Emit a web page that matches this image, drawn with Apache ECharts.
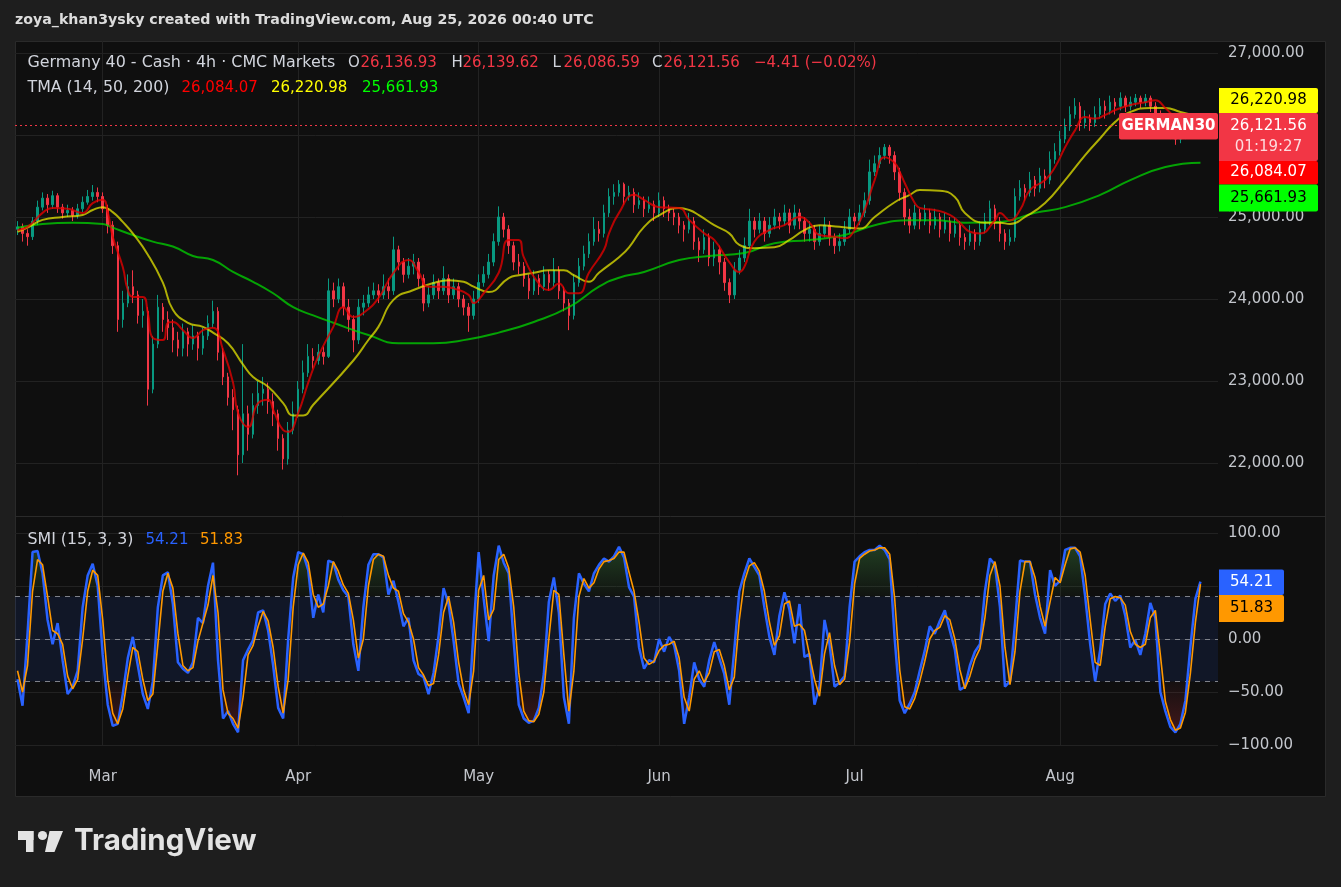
<!DOCTYPE html>
<html>
<head>
<meta charset="utf-8">
<title>Germany 40 - Cash · 4h · CMC Markets</title>
<script src="https://cdn.jsdelivr.net/npm/echarts@6/dist/echarts.min.js"></script>
<style>
html,body{margin:0;padding:0;background:#1e1e1e;overflow:hidden;}
#chart{width:1341px;height:887px;}
</style>
</head>
<body>
<div id="chart"></div>
<script>
// ---------- tick labels ----------
const monthLabels = [[17,'Mar'],[56,'Apr'],[92,'May'],[128,'Jun'],[167,'Jul'],[208,'Aug']];
const priceTicks = [22000,23000,24000,25000,26000,27000];
const smiTicks = [-100,-50,0,50,100];
const smiLevels = [40,0,-40];

// ---------- candles (4h bars) ----------
const firstOpen = 24850;
const lastBar = {open:26136.93, high:26139.62, low:26086.59, close:26121.56, change:-4.41, changePct:-0.02, countdown:'01:19:27'};
const closes = [
24880,24800,24760,24950,25120,25230,25150,25260,25120,25050,
25080,25020,25100,25180,25250,25300,25250,25100,24900,24650,
23750,23950,24150,24050,23800,23850,22900,23450,23900,23750,
23650,23500,23400,23600,23450,23550,23400,23550,23700,23850,
23350,23050,22800,22650,22100,22600,22350,22700,22850,22900,
22750,22600,22300,22050,22400,22600,22900,23100,23300,23250,
23350,23300,24100,24000,24150,23900,23750,23500,23900,23950,
24050,24100,24050,24150,24100,24600,24450,24300,24400,24450,
24250,23950,24050,24200,24100,24250,24050,24150,24000,23900,
23800,24000,24200,24300,24450,24700,25000,24850,24650,24450,
24400,24250,24100,24250,24150,24300,24200,24350,24100,23950,
23800,24200,24400,24550,24700,24850,24800,25050,25250,25300,
25400,25250,25300,25150,25200,25100,25150,25050,25200,25100,
25050,25000,24900,24850,24950,24700,24600,24750,24500,24600,
24450,24200,24050,24350,24500,24650,24950,24850,24950,24800,
24900,25000,24950,25050,24900,25050,24950,24800,24850,24700,
24800,24900,24750,24650,24700,24850,25000,24950,25050,25200,
25550,25650,25750,25850,25750,25550,25300,25000,24900,25050,
24950,25050,24900,25000,24850,24950,24800,24900,24750,24700,
24800,24700,24850,24950,25100,24950,24800,24700,24750,25250,
25350,25300,25450,25350,25500,25450,25700,25800,25950,26100,
26250,26350,26150,26200,26150,26250,26350,26300,26400,26350,
26450,26350,26400,26450,26400,26450,26350,26250,26200,26150,
26050,25950,26000,26050,26100,26125.97,26121.56];
const highs = [
24950,24920,24850,25000,25200,25300,25280,25320,25290,25160,
25150,25120,25160,25250,25330,25390,25360,25300,25150,24950,
24700,24100,24300,24350,24100,24000,23900,23550,24050,23950,
23850,23750,23600,23700,23650,23680,23600,23650,23800,23980,
23900,23400,23100,22900,22700,23450,22700,22850,23000,23050,
22980,22850,22650,22350,22500,22750,23000,23250,23450,23400,
23450,23420,24250,24200,24250,24200,24000,23800,24000,24050,
24150,24200,24180,24300,24250,24760,24650,24500,24500,24550,
24500,24300,24150,24300,24250,24400,24300,24250,24200,24050,
23950,24100,24300,24400,24550,24800,25130,25050,24900,24700,
24550,24450,24300,24350,24300,24400,24350,24500,24400,24150,
24000,24300,24500,24650,24800,25000,24950,25150,25350,25400,
25450,25420,25380,25350,25300,25250,25250,25200,25300,25250,
25150,25100,25050,24950,25050,25000,24750,24850,24800,24700,
24650,24500,24250,24450,24600,24750,25100,25000,25050,25000,
25000,25100,25050,25150,25100,25150,25100,25000,24950,24900,
24900,25000,24950,24800,24800,24950,25100,25050,25150,25300,
25700,25750,25850,25890,25880,25800,25600,25350,25100,25150,
25100,25150,25100,25100,25050,25050,25000,25000,24950,24800,
24900,24850,24950,25050,25200,25150,25000,24850,24850,25350,
25450,25400,25550,25500,25600,25580,25800,25900,26050,26200,
26350,26450,26400,26300,26250,26350,26450,26420,26480,26450,
26520,26480,26470,26500,26480,26500,26480,26400,26300,26250,
26200,26100,26080,26120,26150,26160,26139.62];
const lows = [
24780,24700,24650,24720,24900,25080,25050,25100,25050,24980,
25000,24950,24980,25060,25150,25200,25180,25050,24800,24550,
23600,23650,23900,23950,23700,23650,22700,22850,23400,23600,
23500,23350,23300,23300,23300,23380,23250,23320,23500,23650,
23250,22950,22700,22400,21850,22000,22150,22300,22600,22700,
22600,22450,22150,21920,21980,22350,22550,22850,23050,23150,
23200,23200,23280,23900,23950,23800,23600,23350,23450,23800,
23900,24000,23950,24000,24000,24050,24350,24200,24250,24300,
24150,23850,23900,24000,24000,24050,23950,24000,23900,23800,
23600,23750,23950,24150,24250,24400,24650,24750,24550,24350,
24300,24150,24000,24050,24050,24100,24100,24150,24000,23850,
23620,23750,24150,24350,24500,24650,24700,24750,25000,25150,
25250,25150,25200,25050,25100,25000,25050,24950,25000,25000,
24950,24900,24800,24700,24800,24600,24450,24550,24400,24400,
24300,24100,23950,24000,24300,24450,24600,24750,24800,24700,
24750,24850,24850,24900,24800,24850,24850,24700,24700,24600,
24650,24750,24650,24550,24580,24650,24800,24850,24900,25000,
25150,25500,25600,25700,25650,25450,25200,24900,24800,24850,
24850,24900,24800,24850,24750,24800,24700,24750,24650,24600,
24650,24600,24650,24800,24900,24850,24700,24600,24650,24700,
25200,25200,25250,25250,25300,25350,25400,25650,25750,25900,
26050,26200,26050,26080,26050,26100,26200,26200,26250,26250,
26300,26280,26300,26350,26330,26350,26280,26180,26100,26050,
25950,25880,25900,25950,26000,26050,26086.59];

// ---------- TMA (14, 50, 200) lines, [bar index, value] ----------
const tma14 = [[0,24840],[2,24880],[5,25050],[7,25110],[10,25100],[13,25050],[15,25170],[17,25210],[18,25060],[19,24760],[21,24390],[22,24110],[23,24025],[25,24025],[26,23830],[27,23525],[29,23500],[30,23710],[31,23720],[33,23620],[35,23525],[37,23620],[39,23650],[41,23380],[43,22980],[44,22610],[46,22440],[48,22730],[50,22770],[51,22650],[53,22400],[54,22380],[56,22610],[58,22980],[60,23300],[63,23660],[65,23900],[67,23780],[69,23830],[72,24010],[75,24320],[78,24475],[80,24330],[82,24150],[85,24150],[87,24130],[90,24050],[91,23950],[93,24070],[96,24320],[98,24720],[100,24720],[101,24510],[104,24190],[106,24110],[108,24190],[110,24070],[112,24070],[114,24320],[117,24600],[118,24800],[120,25050],[123,25270],[125,25210],[128,25120],[132,25110],[134,24965],[137,24800],[139,24720],[142,24450],[144,24330],[145,24390],[147,24700],[150,24840],[153,24900],[156,25000],[158,24930],[160,24780],[163,24760],[165,24740],[167,24840],[169,25085],[171,25450],[173,25730],[175,25660],[176,25550],[177,25415],[179,25170],[180,25110],[183,25085],[186,25025],[188,24930],[190,24820],[192,24800],[195,24960],[196,25050],[198,24960],[200,25085],[202,25330],[205,25450],[207,25610],[209,25850],[211,26060],[213,26220],[215,26200],[217,26245],[219,26305],[222,26365],[225,26400],[227,26425],[229,26330],[231,26220],[236,26084.07]];
const tma50 = [[0,24820],[2,24870],[5,24965],[9,25000],[13,25025],[15,25085],[17,25120],[19,25060],[21,24940],[23,24800],[26,24540],[29,24200],[31,23870],[34,23710],[37,23660],[39,23590],[42,23460],[45,23200],[47,23050],[50,22930],[53,22730],[55,22580],[57,22580],[59,22710],[67,23250],[70,23500],[72,23660],[75,23990],[79,24110],[83,24195],[86,24230],[89,24210],[91,24150],[94,24085],[98,24255],[100,24290],[103,24320],[106,24350],[109,24350],[111,24290],[114,24210],[116,24320],[120,24510],[122,24630],[125,24880],[128,25020],[132,25110],[134,25085],[136,25020],[139,24900],[142,24800],[144,24660],[147,24620],[151,24630],[154,24720],[157,24840],[160,24900],[164,24880],[168,24860],[171,25000],[175,25180],[178,25270],[180,25330],[184,25320],[187,25245],[189,25050],[193,24930],[196,24930],[198,24915],[201,25000],[205,25170],[209,25450],[213,25755],[216,25960],[219,26160],[222,26280],[226,26330],[229,26330],[232,26280],[236,26220.98]];
const tma200 = [[0,24870],[5,24915],[11,24930],[17,24915],[19,24870],[23,24780],[27,24700],[31,24640],[35,24525],[39,24475],[43,24330],[47,24210],[51,24070],[55,23900],[59,23800],[63,23710],[70,23560],[76,23460],[83,23460],[90,23510],[96,23590],[103,23720],[110,23900],[116,24150],[120,24260],[125,24330],[132,24475],[138,24525],[145,24560],[151,24680],[158,24720],[165,24780],[171,24900],[178,24960],[183,24960],[189,24930],[196,24940],[203,25050],[209,25120],[216,25270],[222,25450],[229,25610],[236,25661.93]];

// ---------- SMI (15, 3, 3) ----------
const smi = [
-38,-63,5,82,83,62,18,-5,15,-20,
-52,-45,-30,30,60,71,50,-15,-62,-82,
-80,-52,-18,2,-25,-52,-66,-40,30,60,
63,33,-22,-28,-32,-22,20,15,50,72,
-20,-75,-68,-80,-88,-20,-10,-1,25,27,
8,-25,-65,-75,0,58,82,80,65,20,
42,25,74,72,56,46,40,-5,-30,30,
70,80,80,77,42,55,35,12,20,-20,
-33,-36,-52,-32,3,48,33,-2,-42,-55,
-70,10,82,38,-2,60,88,72,62,-3,
-62,-75,-79,-77,-65,-33,35,58,25,-55,
-80,20,62,52,45,62,70,76,73,78,
87,77,49,40,-8,-28,-20,-22,0,-12,
2,-6,-30,-80,-55,-22,-38,-45,-20,-3,
-18,-33,-62,-10,45,62,76,68,60,30,
2,-15,22,44,28,-4,33,-17,-14,-62,
-45,18,-5,-45,-41,-35,30,73,78,82,
84,84,88,84,75,0,-58,-70,-61,-50,
-30,-11,12,5,17,27,8,-10,-48,-45,
-25,-12,-5,45,76,70,30,-45,-40,15,
74,73,73,42,20,5,65,50,55,84,
86,86,78,40,-5,-40,-10,33,43,36,
41,22,-8,-1,-15,5,34,20,-50,-68,
-83,-88,-80,-58,-7,38,54.21];
const smiSignal = [
-30,-50,-25,45,75,70,40,8,5,-5,
-35,-47,-38,0,45,65,60,18,-38,-70,
-80,-66,-35,-8,-12,-38,-58,-52,-5,45,
62,48,5,-25,-30,-27,-2,15,32,60,
25,-48,-70,-75,-84,-55,-15,-6,12,26,
17,-8,-45,-70,-38,30,70,81,72,42,
30,33,50,73,64,51,43,18,-18,0,
50,75,80,78,60,48,45,24,16,0,
-27,-34,-44,-42,-15,25,40,16,-22,-48,
-62,-30,46,60,18,28,75,80,67,30,
-32,-68,-77,-78,-71,-50,0,46,42,-15,
-68,-30,40,57,48,53,66,73,74,76,
82,82,63,45,16,-18,-24,-21,-11,-6,
-5,-2,-18,-55,-68,-38,-30,-41,-32,-12,
-10,-25,-48,-36,18,54,69,72,64,45,
16,-6,3,33,36,12,14,8,-15,-38,
-54,-14,6,-25,-43,-38,-3,52,76,80,
83,84,86,86,80,38,-29,-64,-66,-56,
-40,-21,0,8,11,22,18,0,-29,-47,
-35,-19,-9,20,60,73,50,-8,-43,-12,
45,73,73,58,31,12,35,58,53,70,
85,86,82,60,18,-22,-25,12,38,40,
39,32,7,-5,-8,-5,20,27,-15,-59,
-76,-86,-84,-69,-32,16,51.83];

// ---------- build ----------
const N_CATEGORIES = 240;
const categories = Array.from({length: N_CATEGORIES}, (_, i) => {
  const m = monthLabels.find(d => d[0] === i);
  return m ? m[1] : '';
});
const candles = closes.map((c, i) => {
  const o = i === 0 ? firstOpen : (i === closes.length - 1 ? lastBar.open : closes[i - 1]);
  return [o, c, Math.min(lows[i], o, c), Math.max(highs[i], o, c)];
});
const smiAbove = smi.map(v => Math.max(v, 40));
const smiBelow = smi.map(v => Math.min(v, -40));

const FONT = '"DejaVu Sans", "Liberation Sans", sans-serif';
const fmt = v => v.toLocaleString('en-US', {minimumFractionDigits: 2, maximumFractionDigits: 2}).replace('-', '\u2212');
const last = a => a[a.length - 1];
const v14 = last(tma14)[1], v50 = last(tma50)[1], v200 = last(tma200)[1];
const smiLast = last(smi), sigLast = last(smiSignal);

const GRID_L = 15, GRID_W = 1203;
const TEXT = '#d1d4dc', AXIS_TEXT = '#c3c6cc', GRID_C = '#222222';
const UP = '#089981', DOWN = '#f23645';

function txt(x, y, text, fill, opts) {
  const o = opts || {};
  return {type: 'text', x: x, y: y, silent: true, z: 100,
    style: {text: text, fill: fill, font: (o.weight || 'normal') + ' ' + (o.size || 15) + 'px ' + (o.family || FONT),
      textAlign: o.align || 'left', textVerticalAlign: 'middle', align: o.align || 'left', verticalAlign: 'middle'}};
}
function box(x, y, w, h, fill, r) {
  return {type: 'rect', silent: true, z: 99, shape: {x: x, y: y, width: w, height: h, r: r || 0}, style: {fill: fill}};
}

const graphics = [
  {type: 'rect', silent: true, z: -10, shape: {x: 15.5, y: 41.5, width: 1310, height: 755}, style: {fill: '#0f0f0f', stroke: '#2a2a2a', lineWidth: 1}},
  {type: 'line', silent: true, z: 50, shape: {x1: 15, y1: 516.5, x2: 1326, y2: 516.5}, style: {stroke: '#2a2a2a', lineWidth: 1}},
  txt(15, 20, 'zoya_khan3ysky created with TradingView.com, Aug 25, 2026 00:40 UTC', '#dcdcdc', {size: 14.2, weight: 'bold'}),
  // legend line 1
  txt(27.5, 63, 'Germany 40 - Cash \u00b7 4h \u00b7 CMC Markets', TEXT, {size: 15.9}),
  txt(348, 63, 'O', TEXT), txt(360.5, 63, fmt(lastBar.open), DOWN),
  txt(451.5, 63, 'H', TEXT), txt(462.5, 63, fmt(lastBar.high), DOWN),
  txt(552.5, 63, 'L', TEXT), txt(563.5, 63, fmt(lastBar.low), DOWN),
  txt(652, 63, 'C', TEXT), txt(663.5, 63, fmt(lastBar.close), DOWN),
  txt(754, 63, fmt(lastBar.change) + ' (' + fmt(lastBar.changePct) + '%)', DOWN),
  // legend line 2
  txt(27.5, 88, 'TMA (14, 50, 200)', TEXT, {size: 15.8}),
  txt(181.5, 88, fmt(v14), '#ff0000'),
  txt(271, 88, fmt(v50), '#ffff00'),
  txt(362, 88, fmt(v200), '#00ff00'),
  // SMI legend
  txt(27.5, 540, 'SMI (15, 3, 3)', TEXT, {size: 15.8}),
  txt(145.5, 540, smiLast.toFixed(2), '#2962ff'),
  txt(200, 540, sigLast.toFixed(2), '#ff9800'),
  // right price labels
  box(1219, 88, 99, 25, '#ffff00', [0, 2, 2, 0]), txt(1268.5, 100.5, fmt(v50), '#000000', {align: 'center'}),
  box(1219, 113, 99, 48, '#f23645', [0, 2, 2, 0]), txt(1268.5, 126, fmt(lastBar.close), '#ffffff', {align: 'center'}),
  txt(1268.5, 147, lastBar.countdown, 'rgba(255,255,255,0.82)', {align: 'center'}),
  box(1219, 161, 99, 23.5, '#ff0000', [0, 2, 2, 0]), txt(1268.5, 172.5, fmt(v14), '#ffffff', {align: 'center'}),
  box(1219, 184.5, 99, 27, '#00ff00', [0, 2, 2, 0]), txt(1268.5, 198, fmt(v200), '#000000', {align: 'center'}),
  box(1119, 113, 99, 26.5, '#f23645', 2), txt(1168.5, 126.5, 'GERMAN30', '#ffffff', {align: 'center', weight: 'bold'}),
  // right SMI labels
  box(1219, 569.5, 65, 25.5, '#2962ff', [0, 2, 2, 0]), txt(1251.5, 582.5, smiLast.toFixed(2), '#ffffff', {align: 'center'}),
  box(1219, 595, 65, 27, '#ff9800', [0, 2, 2, 0]), txt(1251.5, 608.5, sigLast.toFixed(2), '#000000', {align: 'center'}),
  // TradingView logo
  {type: 'rect', silent: true, z: 100, shape: {x: 18, y: 831, width: 15.5, height: 9}, style: {fill: '#e3e3e3'}},
  {type: 'rect', silent: true, z: 100, shape: {x: 26, y: 831, width: 7.5, height: 21}, style: {fill: '#e3e3e3'}},
  {type: 'circle', silent: true, z: 100, shape: {cx: 42.5, cy: 835.5, r: 4.6}, style: {fill: '#e3e3e3'}},
  {type: 'polygon', silent: true, z: 100, shape: {points: [[49.5, 831], [63, 831], [54.5, 852], [45, 852]]}, style: {fill: '#e3e3e3'}},
  txt(74, 841.5, 'TradingView', '#e3e3e3', {size: 29.5, weight: 'bold', family: 'Inter, "Noto Sans", sans-serif'})
];

const monthInterval = (idx, val) => val !== '';

const option = {
  animation: false,
  backgroundColor: '#1e1e1e',
  graphic: graphics,
  grid: [
    {left: GRID_L, width: GRID_W, top: 41, height: 504},
    {left: GRID_L, width: GRID_W, top: 533, height: 212}
  ],
  xAxis: [
    {type: 'category', gridIndex: 0, data: categories, boundaryGap: true,
      axisLine: {show: false}, axisTick: {show: false}, axisLabel: {show: false},
      splitLine: {show: true, interval: monthInterval, alignWithLabel: true, lineStyle: {color: GRID_C, width: 1}}},
    {type: 'category', gridIndex: 1, data: categories, boundaryGap: true,
      axisLine: {show: false}, axisTick: {show: false},
      axisLabel: {show: true, interval: monthInterval, color: AXIS_TEXT, fontSize: 15, fontFamily: FONT, margin: 25},
      splitLine: {show: true, interval: monthInterval, alignWithLabel: true, lineStyle: {color: GRID_C, width: 1}}}
  ],
  yAxis: [
    {type: 'value', gridIndex: 0, position: 'right', min: 21000, max: 27146.3, interval: 1000, scale: false,
      axisLine: {show: false}, axisTick: {show: false},
      axisLabel: {color: AXIS_TEXT, fontSize: 15, fontFamily: FONT, margin: 10, showMinLabel: false,
        formatter: v => (priceTicks.indexOf(v) >= 0 ? fmt(v) : '')},
      splitLine: {show: true, showMinLine: false, showMaxLine: false, lineStyle: {color: GRID_C, width: 1}}},
    {type: 'value', gridIndex: 1, position: 'right', min: -100, max: 100, interval: 50,
      axisLine: {show: false}, axisTick: {show: false},
      axisLabel: {color: AXIS_TEXT, fontSize: 15, fontFamily: FONT, margin: 10,
        formatter: v => (v === 50 ? '' : fmt(v))},
      splitLine: {show: true, lineStyle: {color: GRID_C, width: 1}}}
  ],
  series: [
    {name: 'GERMAN30', type: 'candlestick', xAxisIndex: 0, yAxisIndex: 0, z: 2,
      data: candles, barWidth: 2,
      itemStyle: {color: UP, color0: DOWN, borderColor: UP, borderColor0: DOWN, borderWidth: 1},
      markLine: {silent: true, symbol: 'none', label: {show: false},
        lineStyle: {type: [2, 3], color: DOWN, width: 1},
        data: [{yAxis: lastBar.close}]}},
    {name: 'TMA 200', type: 'line', xAxisIndex: 0, yAxisIndex: 0, z: 3, data: tma200, smooth: 0.5, showSymbol: false,
      lineStyle: {color: 'rgba(0,220,0,0.72)', width: 2}},
    {name: 'TMA 50', type: 'line', xAxisIndex: 0, yAxisIndex: 0, z: 3, data: tma50, smooth: 0.5, showSymbol: false,
      lineStyle: {color: 'rgba(235,235,0,0.72)', width: 2}},
    {name: 'TMA 14', type: 'line', xAxisIndex: 0, yAxisIndex: 0, z: 3, data: tma14, smooth: 0.5, showSymbol: false,
      lineStyle: {color: 'rgba(230,0,0,0.78)', width: 2}},
    {name: 'SMI overbought fill', type: 'line', xAxisIndex: 1, yAxisIndex: 1, z: 2, data: smiAbove, showSymbol: false,
      lineStyle: {width: 0, opacity: 0},
      areaStyle: {origin: 40, color: new echarts.graphic.LinearGradient(0, 0, 0, 1, [
        {offset: 0, color: 'rgba(76,175,80,0.42)'}, {offset: 1, color: 'rgba(76,175,80,0.04)'}])}},
    {name: 'SMI oversold fill', type: 'line', xAxisIndex: 1, yAxisIndex: 1, z: 2, data: smiBelow, showSymbol: false,
      lineStyle: {width: 0, opacity: 0},
      areaStyle: {origin: -40, color: new echarts.graphic.LinearGradient(0, 0, 0, 1, [
        {offset: 0, color: 'rgba(242,54,69,0.04)'}, {offset: 1, color: 'rgba(242,54,69,0.32)'}])}},
    {name: 'SMI', type: 'line', xAxisIndex: 1, yAxisIndex: 1, z: 3, data: smi, showSymbol: false,
      lineStyle: {color: '#2962ff', width: 2.5},
      markArea: {silent: true, itemStyle: {color: 'rgba(41,98,255,0.1)'}, data: [[{yAxis: smiLevels[0]}, {yAxis: smiLevels[2]}]]},
      markLine: {silent: true, symbol: 'none', label: {show: false}, z: 1,
        lineStyle: {type: [5, 5], color: '#7f828a', width: 1},
        data: smiLevels.map(v => ({yAxis: v}))}},
    {name: 'Signal', type: 'line', xAxisIndex: 1, yAxisIndex: 1, z: 4, data: smiSignal, showSymbol: false,
      lineStyle: {color: '#ff9800', width: 1.6}}
  ]
};

const chart = echarts.init(document.getElementById('chart'), null, {renderer: 'canvas', width: 1341, height: 887});
chart.setOption(option);
</script>
</body>
</html>
